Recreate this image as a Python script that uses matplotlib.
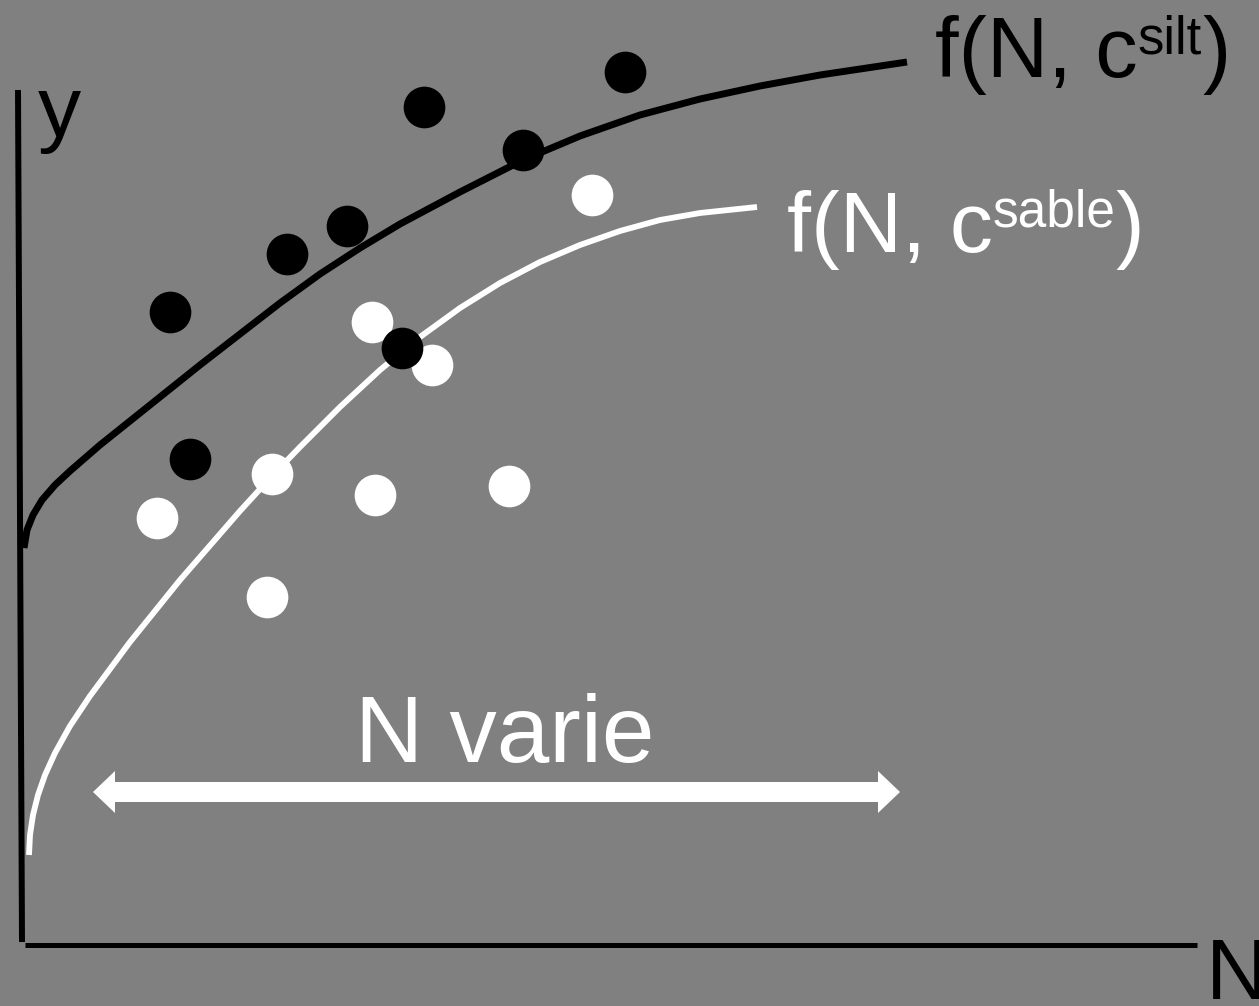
# schéma : rendement y en fonction de N pour deux textures de sol (silt / sable)
import matplotlib
matplotlib.use('Agg')
import matplotlib.pyplot as plt

plt.rcParams['font.family'] = ['Liberation Sans', 'DejaVu Sans']

W, H = 1259, 1006
fond = '#808080'

# courbe f(N, c_silt) (noire)
silt_N = [24, 27, 33, 42, 55, 70, 85, 100, 130, 165, 200, 240, 280, 320, 360, 400,
          460, 523, 580, 640, 700, 760, 820, 907]
silt_y = [548, 530, 515, 500, 485, 471, 458, 445, 421, 393, 365, 334, 303, 274, 248, 224,
          192, 160, 136, 115, 99, 86, 75, 62]

# courbe f(N, c_sable) (blanche)
sable_N = [29, 30, 33, 38, 45, 55, 70, 90, 130, 180, 240, 272, 300, 340, 380, 420, 460,
           500, 540, 580, 620, 660, 700, 757]
sable_y = [855, 835, 815, 795, 775, 753, 726, 696, 642, 580, 511, 476, 447, 407, 370, 337,
           308, 283, 262, 245, 231, 220, 213, 207]

# observations
noir_N = [625, 424, 523, 347, 287, 170, 402, 190]
noir_y = [72, 107, 150, 226, 254, 312, 348, 459]
blanc_N = [592, 372, 432, 272, 509, 375, 157, 267]
blanc_y = [195, 322, 365, 474, 486, 495, 518, 597]

fig = plt.figure(figsize=(W / 100, H / 100), dpi=100, facecolor=fond)
ax = fig.add_axes([0, 0, 1, 1])
ax.set_facecolor(fond)
ax.set_xlim(0, W)
ax.set_ylim(H, 0)
ax.axis('off')

# axes du schéma
ax.plot([18, 22], [90, 942], color='black', lw=4.3, solid_capstyle='butt')
ax.plot([25, 1197], [945, 945], color='black', lw=3.6, solid_capstyle='butt')
ax.text(38, 136, 'y', fontsize=62, color='black', va='baseline')
ax.text(1206, 999, 'N', fontsize=62, color='black', va='baseline')

ax.plot(silt_N, silt_y, color='black', lw=5, solid_capstyle='butt', solid_joinstyle='round')
ax.plot(sable_N, sable_y, color='white', lw=4.2, solid_capstyle='butt', solid_joinstyle='round')

ax.scatter(blanc_N, blanc_y, s=900, color='white', linewidths=0, zorder=3)
ax.scatter(noir_N, noir_y, s=900, color='black', linewidths=0, zorder=4)

# double flèche "N varie" (deux flèches qui se chevauchent au milieu)
ym = 792
xa, xb = 93, 900
xc = (xa + xb) / 2
ax.arrow(xc - 60, ym, xb - xc + 60, 0, width=20, head_width=42, head_length=22,
         length_includes_head=True, color='white', lw=0)
ax.arrow(xc + 60, ym, xa - xc - 60, 0, width=20, head_width=42, head_length=22,
         length_includes_head=True, color='white', lw=0)
ax.text(505, 762, 'N varie', fontsize=68, color='white', ha='center', va='baseline')

fig.canvas.draw()
r = fig.canvas.get_renderer()
inv = ax.transData.inverted()


def etiquette(x, y, sup, taille, taille_sup, hausse, couleur):
    t1 = ax.text(x, y, 'f(N, c', fontsize=taille, color=couleur, va='baseline')
    x1 = inv.transform(t1.get_window_extent(r).get_points())[1, 0]
    t2 = ax.text(x1, y - hausse, sup, fontsize=taille_sup, color=couleur, va='baseline')
    x2 = inv.transform(t2.get_window_extent(r).get_points())[1, 0]
    ax.text(x2, y, ')', fontsize=taille, color=couleur, va='baseline')


etiquette(935, 77, 'silt', 61, 38, 24, 'black')
etiquette(787, 252, 'sable', 62, 37, 26, 'white')

fig.savefig('out.png', dpi=100, facecolor=fond)
